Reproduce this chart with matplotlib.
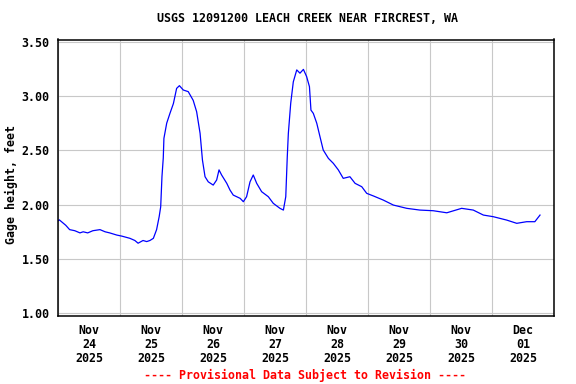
"""
USGS gage height plot for Leach Creek near Fircrest, WA.
"""

import pandas as pd
import matplotlib
matplotlib.use('Agg')
import matplotlib.pyplot as plt
import matplotlib.dates as mdates
from matplotlib.ticker import FormatStrFormatter

# Gage height readings
times = [
    '2025-11-24 00:00', '2025-11-24 00:30', '2025-11-24 02:00', '2025-11-24 03:00',
    '2025-11-24 04:30', '2025-11-24 06:30', '2025-11-24 08:30', '2025-11-24 09:45',
    '2025-11-24 11:30', '2025-11-24 13:30', '2025-11-24 16:15', '2025-11-24 18:15',
    '2025-11-24 20:00', '2025-11-24 22:45', '2025-11-25 00:45', '2025-11-25 03:50',
    '2025-11-25 05:45', '2025-11-25 07:00', '2025-11-25 08:55', '2025-11-25 10:20',
    '2025-11-25 11:35', '2025-11-25 12:55', '2025-11-25 14:10', '2025-11-25 15:10',
    '2025-11-25 15:45', '2025-11-25 16:15', '2025-11-25 16:45', '2025-11-25 17:00',
    '2025-11-25 18:05', '2025-11-25 19:20', '2025-11-25 20:40', '2025-11-25 21:55',
    '2025-11-25 23:00', '2025-11-26 00:30', '2025-11-26 02:25', '2025-11-26 04:20',
    '2025-11-26 05:40', '2025-11-26 07:00', '2025-11-26 07:55', '2025-11-26 08:55',
    '2025-11-26 10:10', '2025-11-26 12:05', '2025-11-26 13:25', '2025-11-26 14:20',
    '2025-11-26 15:20', '2025-11-26 17:20', '2025-11-26 18:35', '2025-11-26 19:50',
    '2025-11-26 22:30', '2025-11-26 23:45', '2025-11-27 01:00', '2025-11-27 02:20',
    '2025-11-27 03:35', '2025-11-27 04:55', '2025-11-27 06:50', '2025-11-27 09:25',
    '2025-11-27 11:20', '2025-11-27 13:55', '2025-11-27 15:15', '2025-11-27 16:10',
    '2025-11-27 16:45', '2025-11-27 17:10', '2025-11-27 18:05', '2025-11-27 19:05',
    '2025-11-27 20:25', '2025-11-27 21:40', '2025-11-27 23:00', '2025-11-28 00:15',
    '2025-11-28 01:20', '2025-11-28 01:55', '2025-11-28 02:50', '2025-11-28 04:10',
    '2025-11-28 05:25', '2025-11-28 06:40', '2025-11-28 08:40', '2025-11-28 10:35',
    '2025-11-28 12:30', '2025-11-28 14:25', '2025-11-28 17:00', '2025-11-28 19:00',
    '2025-11-28 21:35', '2025-11-28 23:30', '2025-11-29 02:05', '2025-11-29 05:55',
    '2025-11-29 09:50', '2025-11-29 15:00', '2025-11-29 20:05', '2025-11-30 01:15',
    '2025-11-30 06:30', '2025-11-30 12:15', '2025-11-30 16:45', '2025-11-30 20:40',
    '2025-12-01 00:30', '2025-12-01 05:40', '2025-12-01 09:35', '2025-12-01 13:25',
    '2025-12-01 16:35', '2025-12-01 18:35',
]
gage_height = [
    1.85, 1.86, 1.83, 1.81,
    1.77, 1.76, 1.74, 1.75,
    1.74, 1.76, 1.77, 1.75,
    1.74, 1.72, 1.71, 1.69,
    1.67, 1.645, 1.67, 1.66,
    1.67, 1.69, 1.77, 1.89,
    1.98, 2.26, 2.43, 2.61,
    2.75, 2.84, 2.93, 3.07,
    3.095, 3.055, 3.04, 2.96,
    2.855, 2.656, 2.41, 2.257,
    2.21, 2.18, 2.227, 2.32,
    2.273, 2.196, 2.134, 2.088,
    2.058, 2.027, 2.073, 2.21,
    2.273, 2.196, 2.119, 2.073,
    2.012, 1.966, 1.95, 2.073,
    2.44, 2.656, 2.933, 3.13,
    3.24, 3.21, 3.245, 3.178,
    3.086, 2.87, 2.84, 2.749,
    2.625, 2.503, 2.426, 2.38,
    2.32, 2.242, 2.257, 2.196,
    2.165, 2.104, 2.08, 2.042,
    1.996, 1.966, 1.95, 1.944,
    1.925, 1.966, 1.95, 1.904,
    1.889, 1.858, 1.828, 1.843,
    1.843, 1.904,
]

title = 'USGS 12091200 LEACH CREEK NEAR FIRCREST, WA'
y_label = 'Gage height, feet'
footer = '---- Provisional Data Subject to Revision ----'
y_ticks = [1.0, 1.5, 2.0, 2.5, 3.0, 3.5]

plt.rcParams['font.family'] = 'DejaVu Sans Mono'
plt.rcParams['font.weight'] = 'bold'
FS = 8.4

t = pd.to_datetime(times)

fig = plt.figure(figsize=(5.76, 3.84), dpi=100)
ax = fig.add_axes([58 / 576, 1 - 316 / 384, 496 / 576, 276.5 / 384])

ax.plot(t, gage_height, color='#0000ff', linewidth=0.9)

ax.set_xlim(pd.Timestamp('2025-11-24'), pd.Timestamp('2025-12-02'))
ax.set_ylim(0.975, 3.52)

# gridlines at midnight, labels centred on each day
ax.xaxis.set_major_locator(mdates.DayLocator())
ax.xaxis.set_major_formatter(plt.NullFormatter())
ax.xaxis.set_minor_locator(mdates.HourLocator(byhour=12))
ax.xaxis.set_minor_formatter(mdates.DateFormatter('%b\n%d\n%Y'))
ax.set_yticks(y_ticks)
ax.yaxis.set_major_formatter(FormatStrFormatter('%.2f'))

ax.tick_params(axis='both', which='both', length=0, labelsize=FS)
ax.tick_params(axis='x', which='minor', pad=6)
ax.tick_params(axis='y', pad=6)
for lbl in ax.xaxis.get_minorticklabels():
    lbl.set_linespacing(1.1)
    lbl.set_fontweight('bold')
for lbl in ax.get_yticklabels():
    lbl.set_fontweight('bold')

ax.grid(True, which='major', color='#c8c8c8', linewidth=0.8)
ax.set_axisbelow(True)
for s in ax.spines.values():
    s.set_linewidth(1.1)
    s.set_color('black')

fig.text(307.5 / 576, 1 - 19 / 384, title, ha='center', va='center',
         fontsize=FS, fontweight='bold')
fig.text(11 / 576, 1 - 184 / 384, y_label, ha='center', va='center',
         rotation=90, fontsize=FS, fontweight='bold')
fig.text(305.5 / 576, 1 - 375 / 384, footer, ha='center', va='center',
         fontsize=FS, fontweight='bold', color='red')

fig.savefig('out.png', dpi=100)
